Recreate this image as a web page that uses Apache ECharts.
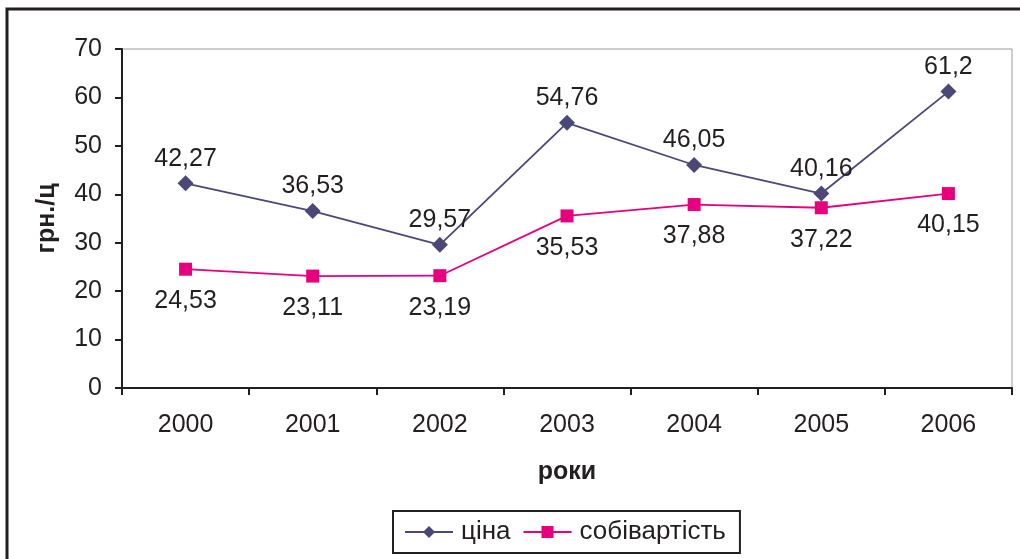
<!DOCTYPE html>
<html><head><meta charset="utf-8">
<script src="https://cdn.jsdelivr.net/npm/echarts@6/dist/echarts.min.js"></script>
<style>html,body{margin:0;padding:0;background:#fff}#c{width:1020px;height:559px}</style>
</head><body><div id="c"></div>
<script>
const categories = ['2000','2001','2002','2003','2004','2005','2006'];
const priceValues = [42.27, 36.53, 29.57, 54.76, 46.05, 40.16, 61.2];
const costValues = [24.53, 23.11, 23.19, 35.53, 37.88, 37.22, 40.15];
const yTicks = {min: 0, max: 70, interval: 10};

const FONT = '"Liberation Sans", Arial, sans-serif';
const TXT = '#231f20';
const fmt = p => String(p.value).replace('.', ',');

const chart = echarts.init(document.getElementById('c'), null, {renderer: 'canvas'});
chart.setOption({
  animation: false,
  backgroundColor: '#fff',
  textStyle: {fontFamily: FONT, color: TXT},
  graphic: [{
    type: 'rect', silent: true, z: -1,
    shape: {x: 7, y: 9, width: 1100, height: 700},
    style: {fill: 'none', stroke: TXT, lineWidth: 3}
  }],
  grid: {left: 122, right: 8, top: 49, bottom: 171, show: true, borderColor: '#9a9a9a', borderWidth: 1, backgroundColor: 'transparent'},
  legend: {
    left: 393, top: 511, itemGap: 12, itemWidth: 48, itemHeight: 15,
    padding: [8, 14, 8, 11],
    borderColor: TXT, borderWidth: 2,
    textStyle: {fontFamily: FONT, fontSize: 26, color: TXT, padding: [0, 0, 0, 3]},
    data: ['ціна', 'собівартість']
  },
  xAxis: {
    type: 'category', data: categories, boundaryGap: true,
    name: 'роки', nameLocation: 'middle', nameGap: 72,
    nameTextStyle: {fontFamily: FONT, fontSize: 25, fontWeight: 'bold', color: TXT},
    axisLine: {lineStyle: {color: TXT, width: 2}},
    axisTick: {show: true, length: 7, lineStyle: {color: TXT, width: 2}},
    axisLabel: {fontFamily: FONT, fontSize: 25, color: TXT, margin: 25},
    splitLine: {show: false}
  },
  yAxis: {
    type: 'value', min: yTicks.min, max: yTicks.max, interval: yTicks.interval,
    name: 'грн./ц', nameLocation: 'middle', nameGap: 62, nameRotate: 90,
    nameTextStyle: {fontFamily: FONT, fontSize: 25, fontWeight: 'bold', color: TXT},
    axisLine: {show: true, lineStyle: {color: TXT, width: 2}},
    axisTick: {show: true, length: 7, lineStyle: {color: TXT, width: 2}},
    axisLabel: {fontFamily: FONT, fontSize: 25, color: TXT, margin: 20},
    splitLine: {show: false}
  },
  series: [
    {
      name: 'ціна', type: 'line', data: priceValues,
      symbol: 'diamond', symbolSize: 16,
      itemStyle: {color: '#4b4878'},
      lineStyle: {color: '#4b4878', width: 1.8},
      label: {show: true, position: 'top', distance: 4, formatter: fmt,
        fontFamily: FONT, fontSize: 25, color: TXT}
    },
    {
      name: 'собівартість', type: 'line', data: costValues,
      symbol: 'rect', symbolSize: 13,
      itemStyle: {color: '#e6007e'},
      lineStyle: {color: '#e6007e', width: 1.8},
      label: {show: true, position: 'bottom', distance: 13, formatter: fmt,
        fontFamily: FONT, fontSize: 25, color: TXT}
    }
  ]
});
</script></body></html>
